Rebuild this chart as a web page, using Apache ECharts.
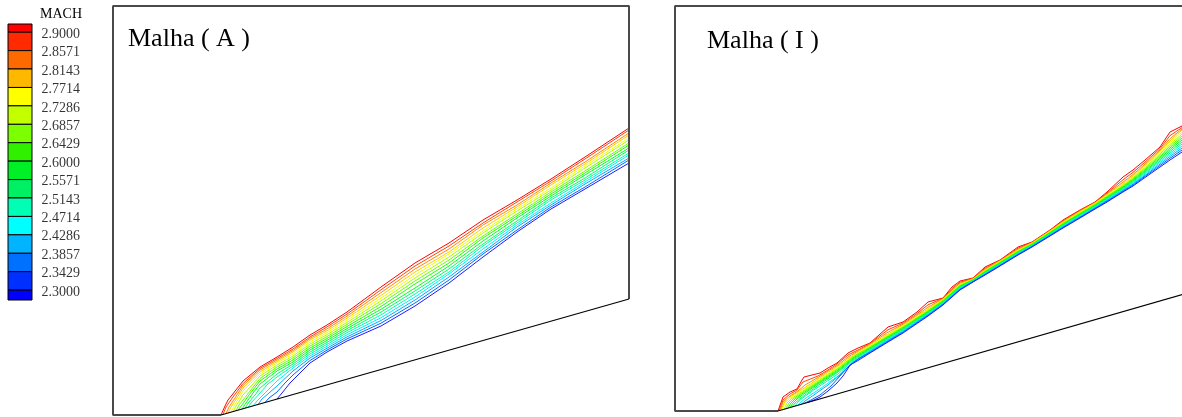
<!DOCTYPE html>
<html>
<head>
<meta charset="utf-8">
<title>MACH - Malha (A) / Malha (I)</title>
<script src="https://cdn.jsdelivr.net/npm/echarts@6/dist/echarts.min.js"></script>
<style>
  html, body { margin: 0; padding: 0; background: #fff; }
  #chart { width: 1182px; height: 417px; }
</style>
</head>
<body>
<div id="chart"></div>
<script>
// niveis de Mach, de cima (2.9) para baixo (2.3)
const levels = [2.9, 2.8571, 2.8143, 2.7714, 2.7286, 2.6857, 2.6429, 2.6, 2.5571, 2.5143, 2.4714, 2.4286, 2.3857, 2.3429, 2.3];
const levelLabels = ["2.9000", "2.8571", "2.8143", "2.7714", "2.7286", "2.6857", "2.6429", "2.6000",
  "2.5571", "2.5143", "2.4714", "2.4286", "2.3857", "2.3429", "2.3000"];
const levelColors = ["#ff0000", "#ff4400", "#ff8800", "#ffcc00", "#eeff00", "#aaff00", "#66ff00", "#22ff00",
  "#00ff22", "#00ff66", "#00ffaa", "#00eeff", "#00aaff", "#0066ff", "#1a1aff"];

// faixas da legenda (de cima para baixo): limites e cores
const bandEdges = [2.919, 2.9, 2.8571, 2.8143, 2.7714, 2.7286, 2.6857, 2.6429, 2.6, 2.5571, 2.5143,
  2.4714, 2.4286, 2.3857, 2.3429, 2.3, 2.277];
const bandColors = ["#ff0000", "#ff2a00", "#ff6a00", "#ffb800", "#ffff00", "#c4ff00", "#7cff00", "#30f000",
  "#00f028", "#00f064", "#00ffb4", "#00ffff", "#00b4ff", "#0070ff", "#0030ff", "#0000ff"];

// Malha (A): contorno do dominio e rampa (x, y a partir do vertice da rampa)
const frameA = [[0, 0], [-108, 0], [-108, 409], [408, 409], [408, 116]];
const wedgeA = [[0, 0], [408, 116]];

// inicio de cada isolinha junto da rampa
const headA = [
  [[0, 0], [4, 9], [7, 15], [11, 20], [22, 34], [39, 48], [56, 58], [72, 68]],
  [[2, 0.6], [5, 8], [12, 18], [22, 31.5], [39, 46.5], [56, 56.5], [72, 66]],
  [[5, 1.4], [8, 8], [14, 17], [22, 29.5], [39, 45], [56, 55], [72, 64.5]],
  [[7, 2], [10, 8], [16, 17], [22, 27], [39, 43], [56, 53.5], [72, 63]],
  [[10, 2.8], [13, 9], [18, 17], [22, 24], [39, 41], [56, 52], [72, 61]],
  [[12, 3.4], [15, 9], [19, 15], [22, 20], [39, 39], [56, 50], [72, 59]],
  [[15, 4.3], [18, 10], [22, 15], [39, 36.5], [56, 48], [72, 57]],
  [[17, 4.8], [21, 10], [28, 20], [39, 34], [56, 46], [72, 55]],
  [[21, 6], [25, 12], [32, 22], [39, 31], [56, 44], [72, 53]],
  [[24, 6.8], [28, 13], [34, 20], [39, 27], [56, 41], [72, 51]],
  [[27, 7.7], [31, 13], [39, 22], [47, 31], [56, 38], [72, 49]],
  [[32, 9.1], [36, 14], [43, 21], [56, 34], [72, 47]],
  [[37, 10.5], [41, 16], [48, 22], [56, 29], [72, 44]],
  [[44, 12.5], [48, 17], [56, 23], [64, 32], [72, 40]],
  [[56, 16], [61, 22], [69, 32], [72, 35]]
];
// trecho principal do choque
const stationsA = [89, 106, 126, 160, 194, 228, 262, 296, 330, 364, 408];
const bandA = [
  [80, 90, 103, 128, 152, 172, 195, 215, 236, 258, 287],
  [78, 88.1, 100.9, 125.2, 149, 169, 192, 213, 234, 256, 285],
  [76.5, 86.1, 98.9, 122.4, 146, 166, 190, 210, 232, 253, 282],
  [75, 84.2, 96.8, 119.6, 143, 163, 187, 208, 230, 251, 280],
  [73, 82.3, 94.7, 116.8, 140, 161, 184, 206, 227, 249, 277],
  [71, 80.4, 92.6, 114.1, 137, 158, 182, 204, 225, 247, 275],
  [69, 78.4, 90.6, 111.3, 134, 155, 179, 201, 223, 244, 272],
  [67, 76.5, 88.5, 108.5, 131, 152, 177, 199, 221, 242, 270],
  [65, 74.6, 86.4, 105.7, 127, 149, 174, 197, 219, 240, 267],
  [63, 72.6, 84.4, 102.9, 124, 146, 171, 194, 217, 237, 265],
  [61, 70.7, 82.3, 100.1, 121, 143, 169, 192, 215, 235, 262],
  [59, 68.8, 80.2, 97.3, 118, 141, 166, 190, 212, 233, 260],
  [57, 66.8, 78.1, 94.5, 115, 138, 163, 188, 210, 231, 257],
  [54.5, 64.9, 76.1, 91.8, 112, 135, 161, 185, 208, 228, 255],
  [52, 63, 74, 89, 109, 132, 158, 183, 206, 226, 252]
];

// Malha (I)
const frameB = [[0, 0], [-103, 0], [-103, 405], [417, 405], [417, 120]];
const wedgeB = [[0, 0], [417, 120]];

const headB = [
  [[0, 0], [5, 14], [12, 19], [19, 22], [24, 31], [26, 34], [42, 38], [50, 43], [59, 48], [70, 58], [80, 63]],
  [[1, 0.3], [5, 11], [12, 17], [19, 21], [25, 29], [40, 35], [50, 41], [59, 47], [70, 56], [80, 61]],
  [[2, 0.6], [5, 9], [12, 15], [20, 20], [27, 26], [40, 33.5], [50, 40], [60, 46], [70, 54], [80, 60]],
  [[3, 0.9], [6, 8], [10, 13], [20, 19], [40, 32], [60, 45], [75, 56]],
  [[4, 1.1], [7, 8], [11, 12], [20, 18], [40, 31], [60, 44], [75, 55]],
  [[6, 1.7], [9, 8], [13, 12], [21, 17.5], [40, 30], [60, 43], [75, 54.5]],
  [[8, 2.3], [11, 8], [15, 12], [22, 17], [40, 29], [60, 42], [75, 54]],
  [[10, 2.9], [13, 8], [17, 12], [23, 16.5], [40, 28], [60, 41], [75, 53]],
  [[12, 3.4], [15, 8], [19, 12], [25, 16.5], [40, 27], [60, 40], [75, 52]],
  [[14, 4], [17, 8], [21, 11.5], [27, 16], [40, 25.5], [60, 39], [75, 51]],
  [[17, 4.9], [20, 9], [24, 12.5], [30, 17], [41, 24.5], [60, 37], [75, 50]],
  [[20, 5.7], [23, 9], [28, 13], [34, 17], [44, 23.5], [60, 35], [75, 49]],
  [[23, 6.6], [27, 10], [33, 14], [40, 19], [50, 26], [62, 36], [75, 48.5]],
  [[26, 7.5], [33, 11], [42, 16], [53, 25], [62, 35], [70, 44], [80, 52]],
  [[29, 8.3], [36, 11], [42, 14], [50, 20], [59, 28], [65, 35], [69, 41], [72, 46], [80, 50.5]]
];
const stationsB = [92, 110, 125, 139, 150, 165, 174, 182, 195, 207, 222, 240, 254, 272, 285, 302, 317, 329, 345, 355, 367, 382, 392, 404];
const bandB = [
  [68, 84, 89, 99, 109, 113, 124, 130, 133, 144, 151, 164, 169, 181, 191, 201, 209, 219, 234, 241, 251, 264, 279, 285],
  [67.5, 81.2, 87.8, 97.4, 106.2, 112.6, 122.4, 128.8, 132.6, 142.8, 150.6, 162.8, 168.6, 180.6, 190.2, 200.4, 208.6, 218, 231.2, 238.6, 248.8, 262.4, 275.4, 283.4],
  [67, 78.8, 86.8, 96, 103.8, 112.2, 121, 127.8, 132.2, 141.8, 150.2, 161.8, 168.2, 180.2, 189.5, 199.9, 208.2, 217.1, 228.8, 236.5, 246.9, 261, 272.3, 282],
  [66, 77, 86, 95, 102, 112, 120, 127, 132, 141, 150, 161, 168, 180, 189, 199.5, 208, 216.5, 227, 235, 245.5, 260, 270, 281],
  [65.3, 76.3, 85.3, 94.3, 101.4, 111.5, 119.5, 126.5, 131.7, 140.5, 149.5, 160.5, 167.6, 179.5, 188.5, 198.9, 207.5, 215.8, 226.3, 234.1, 244.4, 258.5, 268.3, 279],
  [64.5, 75.5, 84.5, 93.6, 100.7, 110.9, 118.9, 125.9, 131.5, 140.1, 149.1, 160.1, 167.3, 179.1, 187.9, 198.3, 206.9, 215.1, 225.5, 233.2, 243.3, 257.1, 266.5, 277],
  [63.8, 74.8, 83.8, 93, 100.1, 110.4, 118.4, 125.4, 131.2, 139.6, 148.6, 159.6, 166.9, 178.6, 187.4, 197.7, 206.4, 214.5, 224.8, 232.3, 242.2, 255.6, 264.8, 275],
  [63.1, 74.1, 83.1, 92.3, 99.5, 109.8, 117.8, 124.8, 130.9, 139.2, 148.2, 159.2, 166.5, 178.2, 186.8, 197.2, 205.8, 213.8, 224.1, 231.4, 241.1, 254.2, 263.1, 273],
  [62.4, 73.4, 82.4, 91.6, 98.8, 109.3, 117.3, 124.3, 130.6, 138.7, 147.7, 158.7, 166.2, 177.7, 186.3, 196.5, 205.3, 213.1, 223.4, 230.5, 240, 252.7, 261.4, 271],
  [61.6, 72.6, 81.6, 90.9, 98.2, 108.7, 116.7, 123.7, 130.4, 138.3, 147.3, 158.3, 165.8, 177.3, 185.7, 195.9, 204.7, 212.4, 222.6, 229.5, 239, 251.3, 259.6, 269],
  [60.9, 71.9, 80.9, 90.2, 97.5, 108.2, 116.2, 123.2, 130.1, 137.8, 146.8, 157.8, 165.5, 176.8, 185.2, 195.4, 204.2, 211.7, 221.9, 228.6, 237.9, 249.8, 257.9, 267],
  [60.2, 71.2, 80.2, 89.5, 96.9, 107.6, 115.6, 122.6, 129.8, 137.4, 146.4, 157.4, 165.1, 176.4, 184.6, 194.8, 203.6, 211, 221.2, 227.7, 236.8, 248.4, 256.2, 265],
  [59.5, 70.5, 79.5, 88.9, 96.3, 107.1, 115.1, 122.1, 129.5, 136.9, 145.9, 156.9, 164.7, 175.9, 184.1, 194.2, 203.1, 210.4, 220.5, 226.8, 235.7, 246.9, 254.5, 263],
  [58.7, 69.7, 78.7, 88.2, 95.6, 106.5, 114.5, 121.5, 129.3, 136.5, 145.5, 156.5, 164.4, 175.5, 183.5, 193.6, 202.5, 209.7, 219.7, 225.9, 234.6, 245.5, 252.7, 261],
  [58, 69, 78, 87.5, 95, 106, 114, 121, 129, 136, 145, 156, 164, 175, 183, 193, 202, 209, 219, 225, 233.5, 244, 251, 259]
];

const serif = "Liberation Serif";

function buildLine(head, stations, band) {
  return head.concat(stations.map((x, i) => [x, band[i]]));
}

function contourSeries(heads, stations, bands, axis) {
  return levels.map((lv, k) => ({
    name: "MACH " + levelLabels[k],
    type: "line",
    xAxisIndex: axis,
    yAxisIndex: axis,
    data: buildLine(heads[k], stations, bands[k]),
    symbol: "none",
    silent: true,
    lineStyle: { color: levelColors[k], width: 1 },
    z: 3
  }));
}

function outline(data, axis, color, width) {
  return {
    type: "line",
    xAxisIndex: axis,
    yAxisIndex: axis,
    data: data,
    symbol: "none",
    silent: true,
    clip: false,
    lineStyle: { color: color, width: width },
    z: 4
  };
}

const chart = echarts.init(document.getElementById("chart"));

chart.setOption({
  backgroundColor: "#ffffff",
  animation: false,
  title: [
    { text: "MACH", left: 40, top: 7, padding: 0,
      textStyle: { fontFamily: serif, fontSize: 14, fontWeight: "normal", color: "#000" } },
    { text: "Malha ( A )", left: 128, top: 26, padding: 0,
      textStyle: { fontFamily: serif, fontSize: 26, fontWeight: "normal", color: "#000" } },
    { text: "Malha ( I )", left: 707, top: 28, padding: 0,
      textStyle: { fontFamily: serif, fontSize: 26, fontWeight: "normal", color: "#000" } }
  ],
  // a moldura da malha (I) passa da borda direita da janela
  grid: [
    { left: 113, top: 6, width: 516, height: 409, outerBoundsMode: "none" },
    { left: 675, top: 6, width: 520, height: 405, outerBoundsMode: "none" },
    { left: 8, top: 24, width: 24, height: 276, outerBoundsMode: "none" }
  ],
  xAxis: [
    { type: "value", gridIndex: 0, min: -108, max: 408, show: false },
    { type: "value", gridIndex: 1, min: -103, max: 417, show: false },
    { type: "value", gridIndex: 2, min: 0, max: 1, show: false }
  ],
  yAxis: [
    { type: "value", gridIndex: 0, min: 0, max: 409, show: false },
    { type: "value", gridIndex: 1, min: 0, max: 405, show: false },
    { type: "value", gridIndex: 2, min: 2.277, max: 2.919, show: false }
  ],
  series: [
    ...contourSeries(headA, stationsA, bandA, 0),
    ...contourSeries(headB, stationsB, bandB, 1),
    outline(frameA, 0, "#4a4a4a", 2),
    outline(wedgeA, 0, "#000000", 1.2),
    outline(frameB, 1, "#4a4a4a", 2),
    outline(wedgeB, 1, "#000000", 1.2),
    {
      // caixas de cor da legenda
      type: "custom",
      xAxisIndex: 2,
      yAxisIndex: 2,
      silent: true,
      data: bandColors.map((c, i) => [0.5, bandEdges[i + 1], bandEdges[i]]),
      encode: { x: 0, y: [1, 2] },
      renderItem: function (params, api) {
        const p0 = api.coord([0, api.value(2)]);
        const p1 = api.coord([1, api.value(1)]);
        return {
          type: "rect",
          shape: { x: p0[0], y: p0[1], width: p1[0] - p0[0], height: p1[1] - p0[1] },
          style: { fill: bandColors[params.dataIndex], stroke: "#000", lineWidth: 1 }
        };
      }
    },
    {
      // rotulos da legenda
      type: "scatter",
      xAxisIndex: 2,
      yAxisIndex: 2,
      silent: true,
      symbolSize: 1,
      itemStyle: { color: "rgba(0,0,0,0)" },
      data: levels.map((v) => [1, v]),
      label: {
        show: true,
        position: "right",
        distance: 9,
        offset: [0, 2],
        fontFamily: serif,
        fontSize: 14,
        color: "#000",
        formatter: (p) => levelLabels[p.dataIndex]
      }
    }
  ]
});
</script>
</body>
</html>
